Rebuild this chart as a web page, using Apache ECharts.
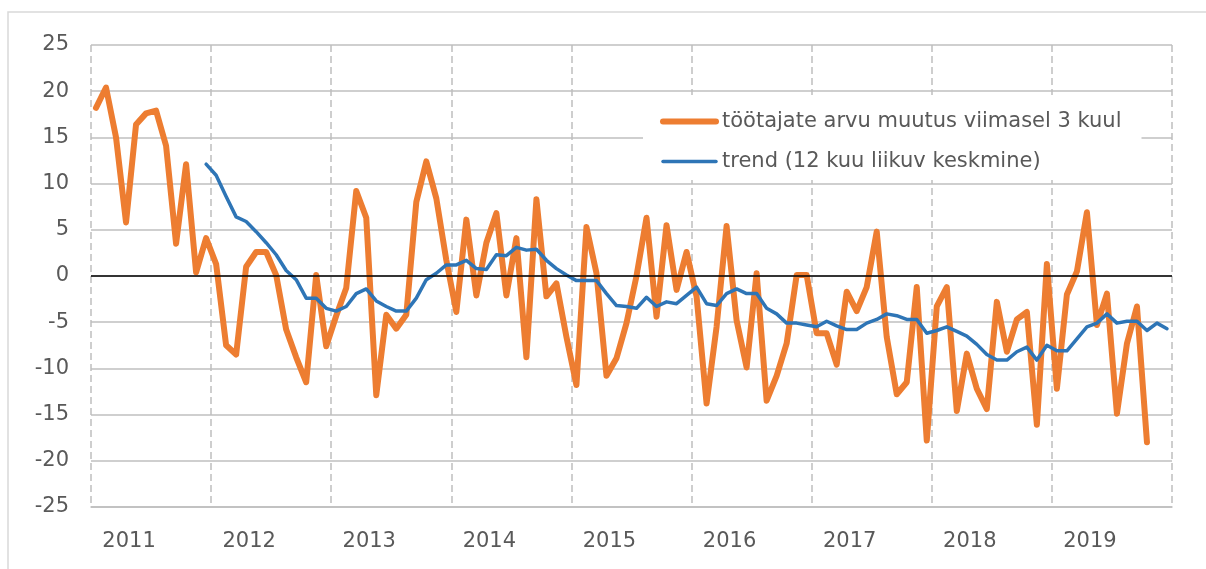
<!DOCTYPE html>
<html>
<head>
<meta charset="utf-8">
<script src="https://cdn.jsdelivr.net/npm/echarts@6/dist/echarts.min.js"></script>
<style>
  html, body { margin: 0; padding: 0; background: #fff; }
  #main { width: 1206px; height: 569px; }
</style>
</head>
<body>
<div id="main"></div>
<script>
// aastad x-teljel, iga aasta 12 kuud
const years = ['2011', '2012', '2013', '2014', '2015', '2016', '2017', '2018', '2019'];
const yTicks = [-25, -20, -15, -10, -5, 0, 5, 10, 15, 20, 25];

// töötajate arvu muutus viimasel 3 kuul
const change3m = [
  18.2, 20.4, 15.0, 5.8, 16.4, 17.6, 17.9, 14.1, 3.5, 12.1, 0.4, 4.1,
  1.3, -7.5, -8.5, 1.0, 2.6, 2.6, 0.1, -5.8, -8.8, -11.5, 0.1, -7.6,
  -4.3, -1.3, 9.2, 6.3, -12.9, -4.2, -5.7, -4.2, 8.0, 12.4, 8.4, 1.7,
  -3.9, 6.1, -2.1, 3.6, 6.8, -2.1, 4.1, -8.8, 8.3, -2.2, -0.8, -6.6,
  -11.8, 5.3, 0.3, -10.8, -8.9, -5.1, 0.0, 6.3, -4.4, 5.5, -1.5, 2.6,
  -2.2, -13.8, -5.5, 5.4, -4.8, -9.9, 0.3, -13.5, -10.8, -7.3, 0.1, 0.1,
  -6.2, -6.2, -9.6, -1.7, -3.8, -1.2, 4.8, -6.6, -12.8, -11.5, -1.2, -17.8,
  -3.3, -1.2, -14.6, -8.4, -12.2, -14.4, -2.8, -8.2, -4.7, -3.9, -16.1, 1.3,
  -12.2, -2.0, 0.5, 6.9, -5.3, -1.9, -14.9, -7.3, -3.3, -18.0
];

// trend (12 kuu liikuv keskmine)
const trend12m = [
  null, null, null, null, null, null, null, null, null, null, null, 12.1,
  10.9, 8.6, 6.4, 5.9, 4.8, 3.6, 2.3, 0.6, -0.4, -2.4, -2.4, -3.5,
  -3.8, -3.3, -1.9, -1.4, -2.7, -3.3, -3.8, -3.8, -2.4, -0.4, 0.3, 1.2,
  1.2, 1.7, 0.8, 0.7, 2.3, 2.2, 3.1, 2.8, 2.9, 1.7, 0.8, 0.1,
  -0.5, -0.5, -0.5, -1.9, -3.2, -3.3, -3.5, -2.3, -3.3, -2.8, -3.0, -2.1,
  -1.2, -3.0, -3.2, -1.9, -1.4, -1.9, -1.9, -3.5, -4.1, -5.1, -5.1, -5.3,
  -5.5, -4.9, -5.4, -5.8, -5.8, -5.1, -4.7, -4.1, -4.3, -4.7, -4.7, -6.2,
  -5.9, -5.5, -6.0, -6.5, -7.4, -8.5, -9.1, -9.1, -8.2, -7.7, -9.1, -7.5,
  -8.1, -8.1, -6.8, -5.5, -5.1, -4.1, -5.1, -4.9, -4.9, -5.9, -5.1, -5.7
];

const months = [];
years.forEach(function (y) {
  for (let m = 1; m <= 12; m++) {
    months.push(y + '-' + (m < 10 ? '0' + m : m));
  }
});

const textColor = '#595959';
const gridColor = '#bfbfbf';
const font = 'DejaVu Sans';
const orange = '#ED7D31';
const blue = '#2E75B6';

let myChart = echarts.init(document.getElementById('main'));
myChart.setOption({
  backgroundColor: '#fff',
  animation: false,
  graphic: [{
    type: 'rect',
    shape: { x: 8, y: 12, width: 1400, height: 800 },
    style: { fill: 'none', stroke: '#d9d9d9', lineWidth: 1.5 },
    silent: true
  }],
  grid: {
    left: 91,
    right: 34,
    top: 45,
    bottom: 62
  },
  legend: {
    orient: 'vertical',
    left: 643,
    top: 95,
    padding: [16, 20, 8, 17],
    backgroundColor: '#fff',
    itemWidth: 53,
    itemHeight: 14,
    itemGap: 19,
    itemStyle: { opacity: 0 },
    textStyle: { color: textColor, fontSize: 21, fontFamily: font, padding: [0, 0, 0, 1] },
    data: [
      { name: 'töötajate arvu muutus viimasel 3 kuul', lineStyle: { color: orange, width: 6, cap: 'round' } },
      { name: 'trend (12 kuu liikuv keskmine)', lineStyle: { color: blue, width: 3.5, cap: 'round' } }
    ]
  },
  xAxis: {
    type: 'category',
    data: months,
    boundaryGap: true,
    axisLine: { onZero: false, lineStyle: { color: gridColor, width: 1.5 } },
    axisTick: { show: false },
    axisLabel: {
      interval: function (index) { return index % 12 === 3; },
      formatter: function (value) { return value.slice(0, 4); },
      color: textColor,
      fontSize: 21,
      fontFamily: font,
      margin: 24,
      padding: [0, 0, 0, 6]
    },
    splitLine: {
      show: true,
      interval: function (index) { return index % 12 === 0; },
      lineStyle: { color: gridColor, width: 1.5, type: [7, 4] }
    }
  },
  yAxis: {
    type: 'value',
    min: yTicks[0],
    max: yTicks[yTicks.length - 1],
    interval: 5,
    axisLine: { show: false },
    axisTick: { show: false },
    axisLabel: { color: textColor, fontSize: 21, fontFamily: font, margin: 22 },
    splitLine: { lineStyle: { color: gridColor, width: 1.5 } }
  },
  series: [
    {
      // nulljoon
      type: 'line',
      data: [],
      z: 1,
      silent: true,
      markLine: {
        silent: true,
        symbol: 'none',
        label: { show: false },
        lineStyle: { color: '#000', type: 'solid', width: 1.5 },
        data: [{ yAxis: 0 }]
      }
    },
    {
      name: 'töötajate arvu muutus viimasel 3 kuul',
      type: 'line',
      data: change3m,
      symbol: 'none',
      z: 3,
      lineStyle: { color: orange, width: 6, cap: 'round', join: 'round' },
      itemStyle: { color: orange }
    },
    {
      name: 'trend (12 kuu liikuv keskmine)',
      type: 'line',
      data: trend12m,
      symbol: 'none',
      z: 4,
      lineStyle: { color: blue, width: 3.5, cap: 'round', join: 'round' },
      itemStyle: { color: blue }
    }
  ]
});
</script>
</body>
</html>
